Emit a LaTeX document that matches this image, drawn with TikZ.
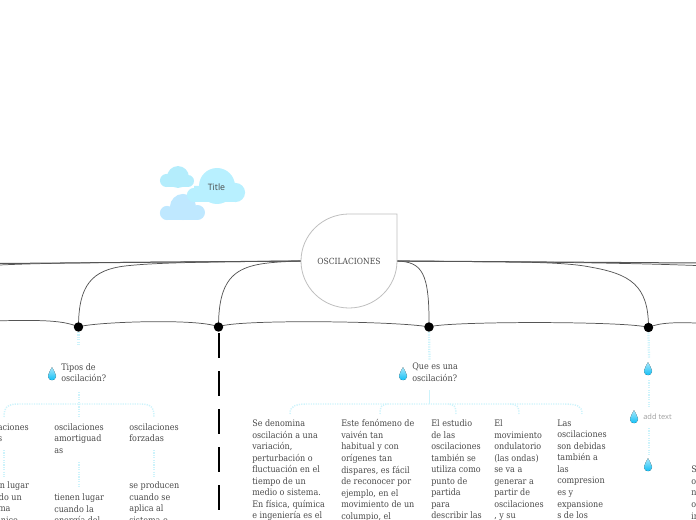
\documentclass[tikz,border=0pt]{standalone}
\usepackage{fontspec}
\usetikzlibrary{backgrounds}
\setmainfont{DejaVu Serif Condensed}
\newfontfamily\sansf{Open Sans}
\definecolor{txt}{HTML}{484848}
\definecolor{dotc}{HTML}{CDF3FB}
\definecolor{cloudA}{HTML}{B8F0FF}
\definecolor{cloudS}{HTML}{B4EDFC}
\definecolor{cloudB}{HTML}{BFE8FF}
\definecolor{dropT}{HTML}{A8E8FC}
\definecolor{dropB}{HTML}{12BFF5}
\definecolor{wire}{HTML}{555555}
\tikzset{
 body/.style={anchor=north west,inner sep=0pt,align=left,font=\fontsize{6.7pt}{8.65pt}\selectfont,text=txt},
 wirel/.style={draw=wire,line width=0.55pt},
 wiret/.style={draw=wire,line width=0.75pt},
 dotl/.style={draw=dotc,line width=1.7pt,dash pattern=on 0.9pt off 0.9pt},
 dotn/.style={draw=dotc,line width=1.1pt,dash pattern=on 0.9pt off 0.9pt},
 hub/.style={circle,fill=black,minimum size=7.1pt,inner sep=0pt},
 pin/.style={inner sep=0pt,minimum size=1pt},
}
\newcommand{\drop}[1]{%
 \begin{scope}[shift={(#1)}]
  \fill[top color=dropT,bottom color=dropB] (0,-6.8) .. controls (1,-3.5) and (4,-1.5) .. (4,2) .. controls (4,4.6) and (2.2,6.2) .. (0,6.2) .. controls (-2.2,6.2) and (-4,4.6) .. (-4,2) .. controls (-4,-1.5) and (-1,-3.5) .. (0,-6.8) -- cycle;
 \end{scope}}
\begin{document}
\begin{tikzpicture}[x=0.75pt,y=-0.75pt]
\useasboundingbox (0,0) rectangle (696,520);
\clip (0,0) rectangle (696,520);
% clouds
\fill[cloudS] (178,177) circle[radius=8.2pt] (166.5,180.5) circle[radius=4.9pt] (188,181) circle[radius=4.5pt] (166.5,174) ++(0,0) rectangle (188,187);
\fill[cloudB] (183,207) circle[radius=9.8pt] (167,213) circle[radius=5.3pt] (197.5,212.5) circle[radius=5.6pt] (167,207.5) rectangle (197.5,220);
\fill[cloudA] (217,186) circle[radius=13.5pt] (194,195) circle[radius=5.3pt] (235.5,192.5) circle[radius=7.2pt] (194,186) rectangle (235.5,202);
\node[font=\sansf\fontsize{6.6pt}{8pt}\selectfont,text=txt,inner sep=0pt] (title) at (216.5,187) {Title};
% central teardrop
\path[draw=black!25,line width=0.6pt,fill=white] (397,214) -- (397,261) arc (0:270:48 and 47) -- cycle;
\node[font=\fontsize{6.35pt}{8pt}\selectfont,text=txt,inner sep=0pt] (root) at (349,261) {OSCILACIONES};
\coordinate (rootW) at (301,261);
\coordinate (rootE) at (397,261);
\coordinate (farW) at (0,263.5);
\coordinate (farWb) at (0,265);
\coordinate (farE) at (696,263);
\coordinate (farEb) at (696,265.5);
\coordinate (chainW) at (0,320.7);
\coordinate (chainE) at (696,323);
% hubs
\node[hub] (h1) at (78.5,327) {};
\node[hub] (h2) at (218.5,327) {};
\node[hub] (h3) at (429,327) {};
\node[hub] (h4) at (648.5,327.5) {};
% main wires
\begin{scope}[on background layer]
\draw[wiret] (rootW) -- (farW);
\draw[wirel] (rootW) .. controls (200,262) and (60,262) .. (farWb);
\draw[wiret] (rootE) -- (farE);
\draw[wirel] (rootE) .. controls (500,262) and (600,262) .. (farEb);
\draw[wirel] (rootW) .. controls (220,262) and (160,262) .. (125,266) .. controls (92,270) and (78.5,285) .. (h1.center);
\draw[wirel] (rootW) .. controls (245,263) and (218.5,265) .. (h2.center);
\draw[wirel] (rootE) .. controls (422,262) and (429.5,272) .. (h3.center);
\draw[wirel] (rootE) .. controls (500,262) and (560,261) .. (590,267) .. controls (630,274) and (648.5,285) .. (h4.center);
\draw[wirel] (chainW) .. controls (30,320.5) and (62,319) .. (h1.center);
\draw[wirel] (h1.center) .. controls (92,322) and (200,318) .. (h2.center);
\draw[wirel] (h2.center) .. controls (232,319) and (400,321) .. (h3.center);
\draw[wirel] (h3.center) .. controls (445,321) and (630,321) .. (h4.center);
\draw[wirel] (h4.center) .. controls (660,322) and (680,322.5) .. (chainE);
\end{scope}
% dashed black
\coordinate (dashStart) at (218.5,333);
\coordinate (dashEnd) at (218.5,520);
\draw[black,line width=1.5pt,dash pattern=on 19.1pt off 9.4pt] (dashStart) -- (dashEnd);
% topic nodes
\node[pin] (d1) at (52,374) {};
\drop{52,374}
\node[body] (tipos) at (61,363) {Tipos de\\oscilación?};
\node[pin] (d2) at (403,374) {};
\drop{403,374}
\node[body] (que) at (412,363) {Que es una\\oscilación?};
\node[pin] (d3) at (648,369) {};
\drop{648,369}
\node[pin] (d4) at (634,417) {};
\drop{634,417}
\node[anchor=west,inner sep=0pt,font=\sansf\fontsize{5.6pt}{7pt}\selectfont,text=black!38] (add) at (643,416.5) {add text};
\node[pin] (d5) at (648,465) {};
\drop{648,465}
% hub to topic dotted
\coordinate (t1top) at (78.5,345);
\coordinate (t2top) at (429.5,360);
\coordinate (t3top) at (649,358);
\draw[dotl] (h1.south) -- (t1top);
\draw[dotl] (h3.south) -- (t2top);
\draw[dotl] (h4.south) -- (t3top);
\coordinate (s1) at (649,380);
\coordinate (s2) at (649,407);
\coordinate (s3) at (649,428);
\coordinate (s4) at (649,455);
\draw[dotl] (s1) -- (s2);
\draw[dotl] (s3) -- (s4);
% branches 1
\coordinate (b1) at (79,392);
\coordinate (c11) at (4,417);
\coordinate (c12) at (79,417);
\coordinate (c13) at (154,417);
\draw[dotl] (b1) -- (c12);
\draw[dotn] (c11) .. controls (4,406) and (8,404) .. (20,404) -- (140,404) .. controls (150,404) and (154,406) .. (c13);
% branches 2
\coordinate (b2) at (429.5,390);
\coordinate (b2j) at (429.5,404);
\coordinate (c21) at (290,414);
\coordinate (c22) at (380,414);
\coordinate (c23) at (456,414);
\coordinate (c24) at (519,414);
\coordinate (c25) at (582,414);
\draw[draw=dotc,line width=1.1pt] (b2) -- (b2j);
\draw[dotn] (c21) .. controls (290,406) and (295,404.5) .. (305,404) -- (565,404) .. controls (578,404.5) and (582,406) .. (c25);
\draw[dotn] (c22) .. controls (380,406) and (382,404.5) .. (388,404);
\draw[dotn] (c23) .. controls (456,406) and (454,404.5) .. (448,404);
\draw[dotn] (c24) .. controls (519,406) and (517,404.5) .. (510,404);
% column 1
\node[body] (a1) at (-21,423) {oscilaciones\\libres};
\node[body] (a2) at (54,423) {oscilaciones\\amortiguad\\as};
\node[body] (a3) at (129,423) {oscilaciones\\forzadas};
\node[body] (b1t) at (-21,481.5) {tienen lugar\\cuando un\\sistema\\mecánico};
\node[body] (b2t) at (54,493.5) {tienen lugar\\cuando la\\energía del};
\node[body] (b3t) at (129,481.5) {se producen\\cuando se\\aplica al\\sistema o};
\coordinate (e1a) at (4,450);
\coordinate (e1b) at (4,477);
\coordinate (e2a) at (79,462);
\coordinate (e2b) at (79,488);
\coordinate (e3a) at (154,450);
\coordinate (e3b) at (154,477);
\draw[dotl] (e1a) -- (e1b);
\draw[dotl] (e2a) -- (e2b);
\draw[dotl] (e3a) -- (e3b);
% column 2
\node[body] (q1) at (252,419.5) {Se denomina\\oscilación a una\\variación,\\perturbación o\\fluctuación en el\\tiempo de un\\medio o sistema.\\En física, química\\e ingeniería es el};
\node[body] (q2) at (341,419.5) {Este fenómeno de\\vaivén tan\\habitual y con\\orígenes tan\\dispares, es fácil\\de reconocer por\\ejemplo, en el\\movimiento de un\\columpio, el};
\node[body] (q3) at (431,419.5) {El estudio\\de las\\oscilaciones\\también se\\utiliza como\\punto de\\partida\\para\\describir las};
\node[body] (q4) at (494,419.5) {El\\movimiento\\ondulatorio\\(las ondas)\\se va a\\generar a\\partir de\\oscilaciones\\, y su};
\node[body] (q5) at (557,419.5) {Las\\oscilaciones\\son debidas\\también a\\las\\compresion\\es y\\expansione\\s de los};
\node[body] (r1) at (691,466) {S\\o\\n\\o\\in};
\end{tikzpicture}
\end{document}
